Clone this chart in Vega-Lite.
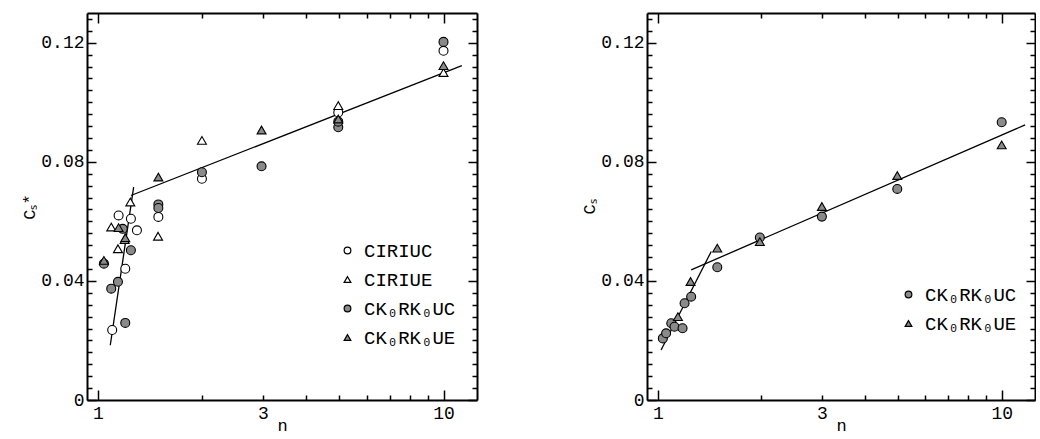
{
 "$schema": "https://vega.github.io/schema/vega-lite/v6.json",
 "padding": {"left": 20, "top": 12, "right": 0, "bottom": 4},
 "background": "white",
 "datasets": {
  "left": [
   {"s": "CIRIUC", "n": 1.10, "c": 0.0235},
   {"s": "CIRIUC", "n": 1.148, "c": 0.062},
   {"s": "CIRIUC", "n": 1.20, "c": 0.0441},
   {"s": "CIRIUC", "n": 1.246, "c": 0.0609},
   {"s": "CIRIUC", "n": 1.297, "c": 0.057},
   {"s": "CIRIUC", "n": 1.496, "c": 0.0615},
   {"s": "CIRIUC", "n": 2.0, "c": 0.0743},
   {"s": "CIRIUC", "n": 4.96, "c": 0.0966},
   {"s": "CIRIUC", "n": 10.0, "c": 0.1173},
   {"s": "CIRIUE", "n": 1.093, "c": 0.0581},
   {"s": "CIRIUE", "n": 1.143, "c": 0.0508},
   {"s": "CIRIUE", "n": 1.195, "c": 0.0539},
   {"s": "CIRIUE", "n": 1.241, "c": 0.0665},
   {"s": "CIRIUE", "n": 1.493, "c": 0.055},
   {"s": "CIRIUE", "n": 2.0, "c": 0.0872},
   {"s": "CIRIUE", "n": 4.96, "c": 0.0989},
   {"s": "CIRIUE", "n": 10.0, "c": 0.110},
   {"s": "CK₀RK₀UC", "n": 1.041, "c": 0.0458},
   {"s": "CK₀RK₀UC", "n": 1.093, "c": 0.0374},
   {"s": "CK₀RK₀UC", "n": 1.143, "c": 0.0397},
   {"s": "CK₀RK₀UC", "n": 1.20, "c": 0.0259},
   {"s": "CK₀RK₀UC", "n": 1.246, "c": 0.0503},
   {"s": "CK₀RK₀UC", "n": 1.18, "c": 0.0575},
   {"s": "CK₀RK₀UC", "n": 1.496, "c": 0.0657},
   {"s": "CK₀RK₀UC", "n": 1.496, "c": 0.0645},
   {"s": "CK₀RK₀UC", "n": 2.0, "c": 0.0765},
   {"s": "CK₀RK₀UC", "n": 2.975, "c": 0.0785},
   {"s": "CK₀RK₀UC", "n": 4.96, "c": 0.0916},
   {"s": "CK₀RK₀UC", "n": 4.96, "c": 0.0935},
   {"s": "CK₀RK₀UC", "n": 10.0, "c": 0.1203},
   {"s": "CK₀RK₀UE", "n": 1.041, "c": 0.0469},
   {"s": "CK₀RK₀UE", "n": 1.148, "c": 0.0579},
   {"s": "CK₀RK₀UE", "n": 1.20, "c": 0.0545},
   {"s": "CK₀RK₀UE", "n": 1.496, "c": 0.0749},
   {"s": "CK₀RK₀UE", "n": 2.975, "c": 0.0907},
   {"s": "CK₀RK₀UE", "n": 4.96, "c": 0.0944},
   {"s": "CK₀RK₀UE", "n": 10.0, "c": 0.1123}
  ],
  "right": [
   {"s": "CK₀RK₀UC", "n": 1.034, "c": 0.0207},
   {"s": "CK₀RK₀UC", "n": 1.057, "c": 0.0224},
   {"s": "CK₀RK₀UC", "n": 1.094, "c": 0.0258},
   {"s": "CK₀RK₀UC", "n": 1.118, "c": 0.0246},
   {"s": "CK₀RK₀UC", "n": 1.18, "c": 0.0241},
   {"s": "CK₀RK₀UC", "n": 1.196, "c": 0.0325},
   {"s": "CK₀RK₀UC", "n": 1.25, "c": 0.0347},
   {"s": "CK₀RK₀UC", "n": 1.489, "c": 0.0446},
   {"s": "CK₀RK₀UC", "n": 1.98, "c": 0.0546},
   {"s": "CK₀RK₀UC", "n": 3.0, "c": 0.0616},
   {"s": "CK₀RK₀UC", "n": 4.97, "c": 0.0709},
   {"s": "CK₀RK₀UC", "n": 10.0, "c": 0.0933},
   {"s": "CK₀RK₀UE", "n": 1.144, "c": 0.028},
   {"s": "CK₀RK₀UE", "n": 1.245, "c": 0.0398},
   {"s": "CK₀RK₀UE", "n": 1.489, "c": 0.051},
   {"s": "CK₀RK₀UE", "n": 1.98, "c": 0.0532},
   {"s": "CK₀RK₀UE", "n": 3.0, "c": 0.065},
   {"s": "CK₀RK₀UE", "n": 4.97, "c": 0.0754},
   {"s": "CK₀RK₀UE", "n": 10.0, "c": 0.0857}
  ],
  "leftLines": [
   {"seg": "a", "n": 1.086, "c": 0.0184},
   {"seg": "a", "n": 1.269, "c": 0.0715},
   {"seg": "b", "n": 1.246, "c": 0.0687},
   {"seg": "b", "n": 11.3, "c": 0.1123}
  ],
  "rightLines": [
   {"seg": "a", "n": 1.022, "c": 0.0168},
   {"seg": "a", "n": 1.43, "c": 0.0499},
   {"seg": "b", "n": 1.25, "c": 0.0437},
   {"seg": "b", "n": 11.7, "c": 0.0924}
  ]
 },
 "config": {
  "view": {"stroke": null},
  "axis": {"domainColor": "black", "domainWidth": 2, "tickColor": "black", "tickWidth": 1.5, "grid": false, "minExtent": 0,
   "labelFont": "Liberation Mono", "labelFontSize": 18, "labelColor": "black",
   "titleFont": "Liberation Mono", "titleFontSize": 17, "titleFontWeight": "normal", "titleColor": "black"},
  "legend": {"labelFont": "Liberation Mono", "labelFontSize": 19, "labelColor": "black", "symbolSize": 45,
   "symbolStrokeWidth": 1.2, "rowPadding": 9, "labelOffset": 7},
  "concat": {"spacing": 102}
 },
 "resolve": {"scale": {"shape": "independent", "fill": "independent", "stroke": "independent"}, "legend": {"shape": "independent", "fill": "independent", "stroke": "independent"}},
 "hconcat": [
  {
   "width": 390, "height": 387,
   "layer": [
    {"data": {"name": "leftLines"}, "mark": {"type": "line", "color": "black", "strokeWidth": 1.3},
     "encoding": {
      "x": {"field": "n", "type": "quantitative", "scale": {"type": "log", "domain": [0.93, 12.5], "nice": false},
       "axis": {"orient": "bottom", "values": [1, 3, 10], "format": "d", "ticks": false, "labelPadding": 4, "title": "n", "titleY": 30, "titleBaseline": "alphabetic"}},
      "y": {"field": "c", "type": "quantitative", "scale": {"domain": [0, 0.13], "nice": false},
       "axis": {"orient": "left", "values": [0, 0.04, 0.08, 0.12], "format": ".2~f", "ticks": false, "labelPadding": 3, "title": "Cₛ*", "titlePadding": 2}},
      "detail": {"field": "seg"}}},
    {"data": {"name": "left"}, "mark": {"type": "point", "filled": false, "strokeWidth": 1.1, "size": 80, "opacity": 1},
     "encoding": {
      "x": {"field": "n", "type": "quantitative", "axis": {"orient": "top", "offset": -387, "values": [1, 10], "tickSize": 10, "labels": false, "domain": false, "title": null}},
      "y": {"field": "c", "type": "quantitative", "axis": {"orient": "right", "offset": -390, "values": [0, 0.04, 0.08, 0.12], "tickSize": 9, "labels": false, "domain": false, "title": null}},
      "shape": {"field": "s", "type": "nominal", "scale": {"domain": ["CIRIUC", "CIRIUE", "CK₀RK₀UC", "CK₀RK₀UE"], "range": ["circle", "triangle-up", "circle", "triangle-up"]},
       "legend": {"orient": "none", "legendX": 251, "legendY": 228, "title": null}},
      "fill": {"field": "s", "type": "nominal", "scale": {"domain": ["CIRIUC", "CIRIUE", "CK₀RK₀UC", "CK₀RK₀UE"], "range": ["white", "white", "#8a8a8a", "#8a8a8a"]},
       "legend": {"orient": "none", "legendX": 251, "legendY": 228, "title": null}},
      "stroke": {"field": "s", "type": "nominal", "scale": {"domain": ["CIRIUC", "CIRIUE", "CK₀RK₀UC", "CK₀RK₀UE"], "range": ["black", "black", "black", "black"]},
       "legend": {"orient": "none", "legendX": 251, "legendY": 228, "title": null}}}},
    {"data": {"name": "leftLines"}, "mark": {"type": "line", "opacity": 0},
     "encoding": {
      "x": {"field": "n", "type": "quantitative", "axis": {"orient": "top", "offset": -387, "values": [2, 3, 4, 5, 6, 7, 8, 9], "tickSize": 5, "labels": false, "domain": false, "title": null}},
      "y": {"field": "c", "type": "quantitative", "axis": {"orient": "right", "offset": -390, "values": [0.004,0.008,0.012,0.016,0.02,0.024,0.028,0.032,0.036,0.044,0.048,0.052,0.056,0.06,0.064,0.068,0.072,0.076,0.084,0.088,0.092,0.096,0.1,0.104,0.108,0.112,0.116,0.124,0.128], "tickSize": 5, "labels": false, "domain": false, "title": null}},
      "detail": {"field": "seg"}}},
    {"data": {"name": "leftLines"}, "mark": {"type": "line", "opacity": 0},
     "encoding": {
      "x": {"field": "n", "type": "quantitative", "axis": {"orient": "bottom", "offset": -387, "values": [1, 10], "tickSize": 10, "labels": false, "title": null}},
      "y": {"field": "c", "type": "quantitative", "axis": {"orient": "left", "offset": -390, "values": [0, 0.04, 0.08, 0.12], "tickSize": 9, "labels": false, "title": null}},
      "detail": {"field": "seg"}}},
    {"data": {"name": "leftLines"}, "mark": {"type": "line", "opacity": 0},
     "encoding": {
      "x": {"field": "n", "type": "quantitative", "axis": {"orient": "bottom", "offset": -387, "values": [2, 3, 4, 5, 6, 7, 8, 9], "tickSize": 5, "labels": false, "domain": false, "title": null}},
      "y": {"field": "c", "type": "quantitative", "axis": {"orient": "left", "offset": -390, "values": [0.004,0.008,0.012,0.016,0.02,0.024,0.028,0.032,0.036,0.044,0.048,0.052,0.056,0.06,0.064,0.068,0.072,0.076,0.084,0.088,0.092,0.096,0.1,0.104,0.108,0.112,0.116,0.124,0.128], "tickSize": 5, "labels": false, "domain": false, "title": null}},
      "detail": {"field": "seg"}}}
   ],
   "resolve": {"axis": {"x": "independent", "y": "independent"}}
  },
  {
   "width": 388, "height": 387,
   "layer": [
    {"data": {"name": "rightLines"}, "mark": {"type": "line", "color": "black", "strokeWidth": 1.3},
     "encoding": {
      "x": {"field": "n", "type": "quantitative", "scale": {"type": "log", "domain": [0.93, 12.5], "nice": false},
       "axis": {"orient": "bottom", "values": [1, 3, 10], "format": "d", "ticks": false, "labelPadding": 4, "title": "n", "titleY": 30, "titleBaseline": "alphabetic"}},
      "y": {"field": "c", "type": "quantitative", "scale": {"domain": [0, 0.13], "nice": false},
       "axis": {"orient": "left", "values": [0, 0.04, 0.08, 0.12], "format": ".2~f", "ticks": false, "labelPadding": 3, "title": "Cₛ", "titlePadding": 2}},
      "detail": {"field": "seg"}}},
    {"data": {"name": "right"}, "mark": {"type": "point", "filled": false, "strokeWidth": 1.1, "size": 80, "opacity": 1},
     "encoding": {
      "x": {"field": "n", "type": "quantitative", "axis": {"orient": "top", "offset": -387, "values": [1, 10], "tickSize": 10, "labels": false, "domain": false, "title": null}},
      "y": {"field": "c", "type": "quantitative", "axis": {"orient": "right", "offset": -388, "values": [0, 0.04, 0.08, 0.12], "tickSize": 9, "labels": false, "domain": false, "title": null}},
      "shape": {"field": "s", "type": "nominal", "scale": {"domain": ["CK₀RK₀UC", "CK₀RK₀UE"], "range": ["circle", "triangle-up"]},
       "legend": {"orient": "none", "legendX": 252, "legendY": 272, "title": null}},
      "fill": {"field": "s", "type": "nominal", "scale": {"domain": ["CK₀RK₀UC", "CK₀RK₀UE"], "range": ["#8a8a8a", "#8a8a8a"]},
       "legend": {"orient": "none", "legendX": 252, "legendY": 272, "title": null}},
      "stroke": {"field": "s", "type": "nominal", "scale": {"domain": ["CK₀RK₀UC", "CK₀RK₀UE"], "range": ["black", "black"]},
       "legend": {"orient": "none", "legendX": 252, "legendY": 272, "title": null}}}},
    {"data": {"name": "rightLines"}, "mark": {"type": "line", "opacity": 0},
     "encoding": {
      "x": {"field": "n", "type": "quantitative", "axis": {"orient": "top", "offset": -387, "values": [2, 3, 4, 5, 6, 7, 8, 9], "tickSize": 5, "labels": false, "domain": false, "title": null}},
      "y": {"field": "c", "type": "quantitative", "axis": {"orient": "right", "offset": -388, "values": [0.004,0.008,0.012,0.016,0.02,0.024,0.028,0.032,0.036,0.044,0.048,0.052,0.056,0.06,0.064,0.068,0.072,0.076,0.084,0.088,0.092,0.096,0.1,0.104,0.108,0.112,0.116,0.124,0.128], "tickSize": 5, "labels": false, "domain": false, "title": null}},
      "detail": {"field": "seg"}}},
    {"data": {"name": "rightLines"}, "mark": {"type": "line", "opacity": 0},
     "encoding": {
      "x": {"field": "n", "type": "quantitative", "axis": {"orient": "bottom", "offset": -387, "values": [1, 10], "tickSize": 10, "labels": false, "title": null}},
      "y": {"field": "c", "type": "quantitative", "axis": {"orient": "left", "offset": -388, "values": [0, 0.04, 0.08, 0.12], "tickSize": 9, "labels": false, "title": null}},
      "detail": {"field": "seg"}}},
    {"data": {"name": "rightLines"}, "mark": {"type": "line", "opacity": 0},
     "encoding": {
      "x": {"field": "n", "type": "quantitative", "axis": {"orient": "bottom", "offset": -387, "values": [2, 3, 4, 5, 6, 7, 8, 9], "tickSize": 5, "labels": false, "domain": false, "title": null}},
      "y": {"field": "c", "type": "quantitative", "axis": {"orient": "left", "offset": -388, "values": [0.004,0.008,0.012,0.016,0.02,0.024,0.028,0.032,0.036,0.044,0.048,0.052,0.056,0.06,0.064,0.068,0.072,0.076,0.084,0.088,0.092,0.096,0.1,0.104,0.108,0.112,0.116,0.124,0.128], "tickSize": 5, "labels": false, "domain": false, "title": null}},
      "detail": {"field": "seg"}}}
   ],
   "resolve": {"axis": {"x": "independent", "y": "independent"}}
  }
 ]
}
